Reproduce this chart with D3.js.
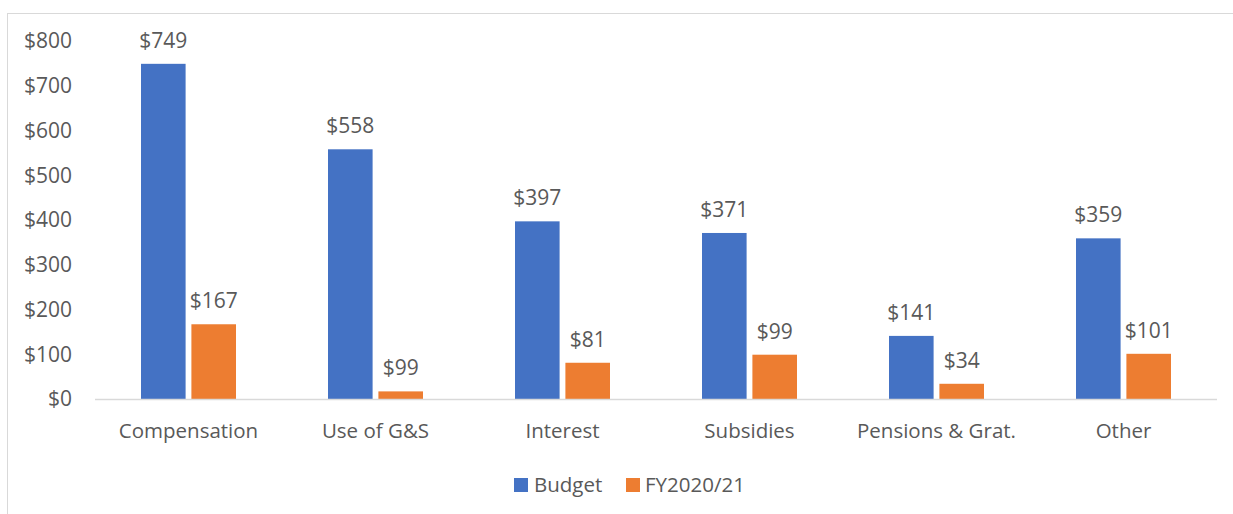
<!DOCTYPE html>
<html><head><meta charset="utf-8">
<script src="https://cdn.jsdelivr.net/npm/d3@7"></script>
<style>body{margin:0;background:#fff}svg{display:block}text{font-family:"Open Sans","Noto Sans",sans-serif;fill:#595959}</style>
</head><body>
<script>
const categories = ["Compensation","Use of G&S","Interest","Subsidies","Pensions & Grat.","Other"];
const budgetValues = [749,558,397,371,141,359];
const fyValues = [167,17,81,99,34,101];
const budgetLabels = ["$749","$558","$397","$371","$141","$359"];
const fyLabels = ["$167","$99","$81","$99","$34","$101"];
const seriesNames = ["Budget","FY2020/21"];
const yTicks = [0,100,200,300,400,500,600,700,800];
const colors = ["#4472C4","#ED7D31"];

const W=1233,H=514;
const svg=d3.select("body").append("svg").attr("width",W).attr("height",H);
svg.append("rect").attr("x",7.5).attr("y",13.5).attr("width",1240).attr("height",520).attr("fill","none").attr("stroke","#D9D9D9");

const x=d3.scaleBand().domain(categories).range([95,1217]);
const y=d3.scaleLinear().domain([0,800]).range([399,41]);
const inner=d3.scaleBand().domain(seriesNames).range([0,95]).paddingInner(0.115);
const off=(x.bandwidth()-95)/2;

const data=categories.map((c,i)=>({c,vals:[budgetValues[i],fyValues[i]],labs:[budgetLabels[i],fyLabels[i]]}));

svg.append("g").selectAll("text").data(yTicks).join("text")
 .attr("x",72).attr("y",d=>y(d)).attr("dy","0.35em").attr("text-anchor","end")
 .style("font-size","21px").text(d=>"$"+d);

const g=svg.append("g");
data.forEach(d=>{
  d.vals.forEach((v,j)=>{
    const bx=x(d.c)+off+inner(seriesNames[j]);
    g.append("rect").attr("x",bx).attr("y",y(v)).attr("width",inner.bandwidth()).attr("height",y(0)-y(v)).attr("fill",colors[j]);
    g.append("text").attr("x",bx+inner.bandwidth()/2).attr("y",y(v)-16).attr("text-anchor","middle").style("font-size","21px").text(d.labs[j]);
  });
});

svg.append("line").attr("x1",95).attr("x2",1217).attr("y1",399.5).attr("y2",399.5).attr("stroke","#D9D9D9").attr("stroke-width",1.5);

svg.append("g").selectAll("text").data(categories).join("text")
 .attr("x",d=>x(d)+x.bandwidth()/2).attr("y",431).attr("dy","0.35em").attr("text-anchor","middle")
 .style("font-size","20.5px").text(d=>d);

const leg=[{x:514,tx:534},{x:626,tx:645}];
seriesNames.forEach((s,i)=>{
  svg.append("rect").attr("x",leg[i].x).attr("y",478).attr("width",14).attr("height",14).attr("fill",colors[i]);
  svg.append("text").attr("x",leg[i].tx).attr("y",485).attr("dy","0.35em").style("font-size","20.5px").text(s);
});
</script>
</body></html>
